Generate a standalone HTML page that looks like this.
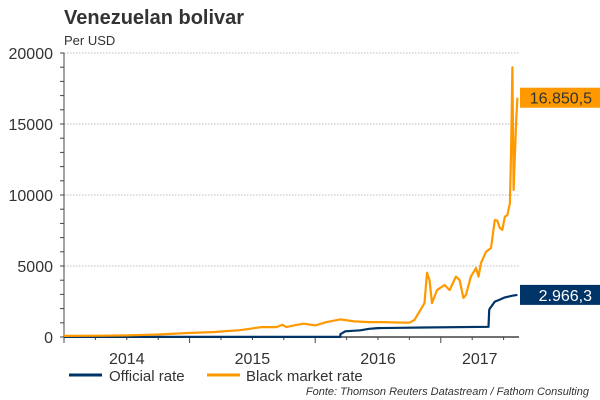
<!DOCTYPE html>
<html><head><meta charset="utf-8"><style>
body{margin:0;background:#fff;width:600px;height:400px;overflow:hidden;font-family:"Liberation Sans",sans-serif}
svg{display:block}
</style></head><body>
<svg id="chart" width="600" height="400" xmlns="http://www.w3.org/2000/svg" font-family="Liberation Sans, sans-serif">
<text x="64" y="24" font-size="20" font-weight="bold" fill="#333">Venezuelan bolivar</text>
<text x="64" y="45" font-size="13" fill="#333">Per USD</text>
<g id="grid"></g><g id="axes"></g><g id="series"></g><g id="labels"></g>
<g>
<line x1="69" y1="375" x2="102" y2="375" stroke="#003366" stroke-width="3"/>
<text x="109" y="381" font-size="15" fill="#333">Official rate</text>
<line x1="207" y1="375" x2="240" y2="375" stroke="#ff9900" stroke-width="3"/>
<text x="246" y="381" font-size="15" fill="#333">Black market rate</text>
</g>
<text x="589" y="395" font-size="11" font-style="italic" fill="#333" text-anchor="end">Fonte: Thomson Reuters Datastream / Fathom Consulting</text>
</svg>
<script>
const yTicks=[0,5000,10000,15000,20000];
const yearLabels=["2014","2015","2016","2017"];
const blackT=[2014.0,2014.3,2014.5,2014.71,2014.85,2014.99,2015.1,2015.2,2015.3,2015.39,2015.48,2015.57,2015.69,2015.74,2015.77,2015.85,2015.91,2016.0,2016.09,2016.2,2016.31,2016.43,2016.55,2016.65,2016.75,2016.79,2016.83,2016.87,2016.89,2016.91,2016.93,2016.97,2017.03,2017.07,2017.12,2017.15,2017.18,2017.2,2017.24,2017.28,2017.3,2017.32,2017.36,2017.4,2017.43,2017.45,2017.47,2017.49,2017.51,2017.53,2017.55,2017.56,2017.57,2017.58,2017.6,2017.61];
const blackV=[80,90,110,160,220,280,320,350,420,470,580,700,700,860,700,850,940,820,1050,1240,1100,1050,1050,1020,1010,1200,1780,2390,4530,4010,2390,3300,3660,3300,4250,4010,2750,2960,4250,4860,4250,5210,6000,6270,8240,8190,7680,7540,8470,8590,9430,13170,18990,10350,15280,16850.5];
const offT=[2014.0,2016.2,2016.201,2016.24,2016.36,2016.43,2016.5,2016.68,2016.86,2017.38,2017.385,2017.39,2017.43,2017.46,2017.51,2017.57,2017.61];
const offV=[10,10,200,400,470,580,630,650,670,720,1900,2000,2490,2600,2790,2910,2966.3];
const lastLabels=["16.850,5","2.966,3"];
const NS="http://www.w3.org/2000/svg";
const x0=64,x1=519,yb=337,yt=53,tStart=2014,tEnd=2017.62,pxYear=125.6;
function X(t){return x0+(t-tStart)*pxYear;}
function Y(v){return yb-(v/20000)*(yb-yt);}
function mk(tag,attrs,parent){const e=document.createElementNS(NS,tag);for(const k in attrs)e.setAttribute(k,attrs[k]);parent.appendChild(e);return e;}
const grid=document.getElementById('grid'),axes=document.getElementById('axes'),series=document.getElementById('series'),labels=document.getElementById('labels');
yTicks.forEach(v=>{
 if(v>0){const g=mk('line',{x1:x0,x2:x1,y1:Y(v),y2:Y(v),stroke:'#bbb','stroke-dasharray':'1.5,1.5'},grid);
 
 }
 const t=mk('text',{x:53,y:Y(v)+6,'font-size':16,fill:'#333','text-anchor':'end'},axes);
 t.textContent=v;
 
 
});
for(let v=0;v<=20000;v+=1000){const l=mk('line',{x1:x0-4,x2:x0,y1:Y(v),y2:Y(v),stroke:'#444'},axes);
 
 }
const ya=mk('line',{x1:x0,x2:x0,y1:yt,y2:yb,stroke:'#444'},axes);


const xa=mk('line',{x1:x0,x2:x1,y1:yb,y2:yb,stroke:'#444','stroke-width':1.5},axes);


for(let q=0;q*0.25+tStart<=tEnd;q++){const t=tStart+q*0.25;const big=q%4===0;
 const l=mk('line',{x1:X(t),x2:X(t),y1:yb,y2:yb+(big?6:3),stroke:'#444'},axes);
 
 }
yearLabels.forEach((s,i)=>{const a=tStart+i,b=Math.min(a+1,tEnd);
 const t=mk('text',{x:(X(a)+X(b))/2,y:yb+27,'font-size':16,fill:'#333','text-anchor':'middle'},axes);
 t.textContent=s;
 
 });
function path(T,V){return T.map((t,i)=>(i?'L':'M')+X(t).toFixed(1)+','+Y(V[i]).toFixed(1)).join('');}
const po=mk('path',{d:path(offT,offV),fill:'none',stroke:'#003366','stroke-width':2.2,'stroke-linejoin':'round'},series);


const pb=mk('path',{d:path(blackT,blackV),fill:'none',stroke:'#ff9900','stroke-width':2.2,'stroke-linejoin':'round'},series);


function box(v,txt,bg,fg,name){const y=Y(v);
 const r=mk('rect',{x:520,y:y-10,width:80,height:20,fill:bg},labels);
 
 
 const t=mk('text',{x:592,y:y+6,'font-size':16,fill:fg,'text-anchor':'end'},labels);
 t.textContent=txt;
 
 }
box(blackV[blackV.length-1],lastLabels[0],'#ff9900','#333','black-market-last-value');
box(offV[offV.length-1],lastLabels[1],'#003366','#fff','official-last-value');
</script>
</body></html>
